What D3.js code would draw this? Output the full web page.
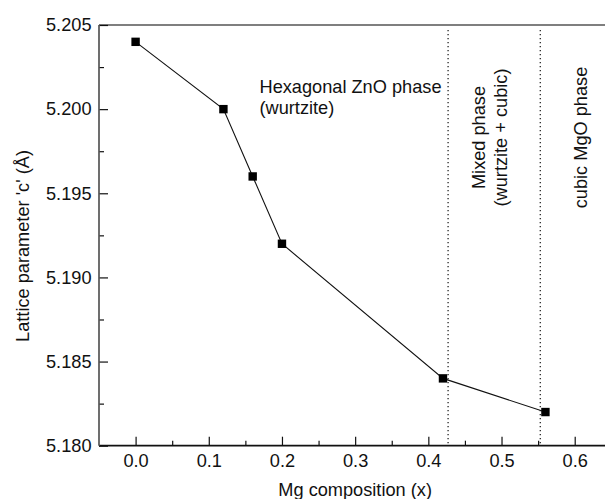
<!DOCTYPE html>
<html>
<head>
<meta charset="utf-8">
<script src="https://cdn.jsdelivr.net/npm/d3@7"></script>
<style>
  html, body { margin: 0; padding: 0; background: #fff; }
  svg { display: block; }
  text { font-family: "Liberation Sans", Arial, Helvetica, sans-serif; fill: #111; }
</style>
</head>
<body>
<svg id="chart" width="605" height="499"></svg>
<script>
// Mg composition (x) and lattice parameter c (Å)
const mgComposition = [0.00, 0.12, 0.16, 0.20, 0.42, 0.56];
const latticeC = [5.204, 5.200, 5.196, 5.192, 5.184, 5.182];

// Phase boundaries
const phaseBoundaries = [0.427, 0.553];

// Axis ticks
const xMajorTicks = [0.0, 0.1, 0.2, 0.3, 0.4, 0.5, 0.6];
const xMinorTicks = [0.05, 0.15, 0.25, 0.35, 0.45, 0.55];
const yMajorTicks = [5.180, 5.185, 5.190, 5.195, 5.200, 5.205];
const yMinorTicks = [5.1825, 5.1875, 5.1925, 5.1975, 5.2025];

const svg = d3.select("#chart");
const pLeft = 99, pRight = 611.3, pTop = 25, pBottom = 445.7;

const x = d3.scaleLinear().domain([-0.05, 0.65]).range([pLeft, pRight]);
const y = d3.scaleLinear().domain([5.180, 5.205]).range([pBottom, pTop]);

const FS = "18.2px";

// Frame (top and right edges)
svg.append("line").attr("x1", pLeft).attr("x2", pRight).attr("y1", pTop).attr("y2", pTop)
  .attr("stroke", "#555").attr("stroke-width", 1.5);
svg.append("line").attr("x1", pRight).attr("x2", pRight).attr("y1", pTop).attr("y2", pBottom)
  .attr("stroke", "#555").attr("stroke-width", 1.5);

// Phase boundary lines
svg.selectAll(".boundary").data(phaseBoundaries).enter().append("line")
  .attr("class", "boundary")
  .attr("x1", d => x(d)).attr("x2", d => x(d))
  .attr("y1", pTop + 5).attr("y2", pBottom)
  .attr("stroke", "#333").attr("stroke-width", 1.4)
  .attr("stroke-dasharray", "1.3,2.7");

// Bottom axis with inward ticks
const xAxis = d3.axisBottom(x).tickValues(xMajorTicks).tickFormat(d3.format(".1f"))
  .tickSize(-9).tickPadding(8);
const gx = svg.append("g").attr("transform", `translate(0,${pBottom})`).call(xAxis);
gx.select(".domain").remove();
gx.selectAll(".tick line").attr("stroke", "#111").attr("stroke-width", 1.2);
gx.selectAll(".tick text").style("font-size", FS).attr("fill", "#111");
const xMinor = d3.axisBottom(x).tickValues(xMinorTicks).tickFormat("").tickSize(-5);
const gxm = svg.append("g").attr("transform", `translate(0,${pBottom})`).call(xMinor);
gxm.select(".domain").remove();
gxm.selectAll(".tick line").attr("stroke", "#111").attr("stroke-width", 1.2);
svg.append("line").attr("x1", pLeft).attr("x2", pRight).attr("y1", pBottom).attr("y2", pBottom)
  .attr("stroke", "#111").attr("stroke-width", 1.7);

// Left axis with inward ticks
const yAxis = d3.axisLeft(y).tickValues(yMajorTicks).tickFormat(d3.format(".3f"))
  .tickSize(-9).tickPadding(7.5);
const gy = svg.append("g").attr("transform", `translate(${pLeft},0)`).call(yAxis);
gy.select(".domain").remove();
gy.selectAll(".tick line").attr("stroke", "#111").attr("stroke-width", 1.2);
gy.selectAll(".tick text").style("font-size", FS).attr("fill", "#111");
const yMinor = d3.axisLeft(y).tickValues(yMinorTicks).tickFormat("").tickSize(-5);
const gym = svg.append("g").attr("transform", `translate(${pLeft},0)`).call(yMinor);
gym.select(".domain").remove();
gym.selectAll(".tick line").attr("stroke", "#111").attr("stroke-width", 1.2);
svg.append("line").attr("x1", pLeft).attr("x2", pLeft).attr("y1", pTop).attr("y2", pBottom)
  .attr("stroke", "#555").attr("stroke-width", 1.7);

// Data line and square markers
const pts = mgComposition.map((m, i) => [m, latticeC[i]]);
svg.append("path").datum(pts)
  .attr("fill", "none").attr("stroke", "#111").attr("stroke-width", 1.1)
  .attr("d", d3.line().x(d => x(d[0])).y(d => y(d[1])));
svg.selectAll(".pt").data(pts).enter().append("rect")
  .attr("class", "pt")
  .attr("x", d => x(d[0]) - 4.2).attr("y", d => y(d[1]) - 4.2)
  .attr("width", 8.4).attr("height", 8.4).attr("fill", "#000");

// Axis titles
svg.append("text").attr("x", (pLeft + pRight) / 2).attr("y", 495.5)
  .attr("text-anchor", "middle").style("font-size", FS).text("Mg composition (x)");
svg.append("text")
  .attr("transform", `translate(29,246) rotate(-90)`)
  .attr("text-anchor", "middle").style("font-size", FS).text("Lattice parameter 'c' (Å)");

// Phase annotations
svg.append("text").attr("x", 259.5).attr("y", 93.3).style("font-size", FS).text("Hexagonal ZnO phase");
svg.append("text").attr("x", 259.5).attr("y", 114).style("font-size", FS).text("(wurtzite)");

// Vertical labels, centred on a common line
const vMid = 137.5;
svg.append("text").attr("transform", `translate(485,${vMid}) rotate(-90)`)
  .attr("text-anchor", "middle").style("font-size", FS).text("Mixed phase");
svg.append("text").attr("transform", `translate(506.5,${vMid}) rotate(-90)`)
  .attr("text-anchor", "middle").style("font-size", FS).text("(wurtzite + cubic)");
svg.append("text").attr("transform", `translate(587,${vMid}) rotate(-90)`)
  .attr("text-anchor", "middle").style("font-size", FS).text("cubic MgO phase");
</script>
</body>
</html>
